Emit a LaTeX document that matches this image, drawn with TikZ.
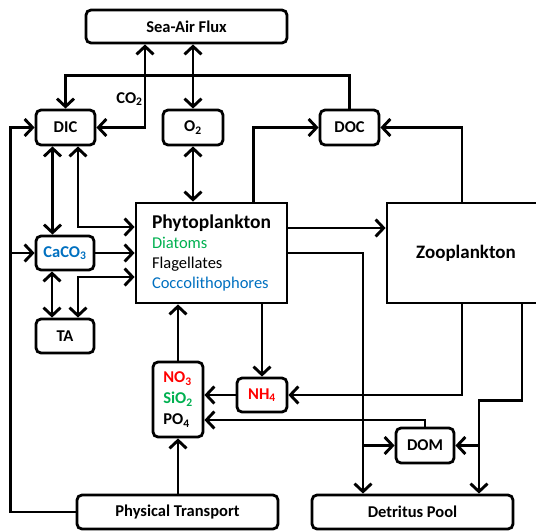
\documentclass[tikz,border=0pt]{standalone}
\usepackage{fontspec}
\setmainfont{Carlito}
\usetikzlibrary{arrows.meta,calc}
\definecolor{diagreen}{RGB}{0,176,80}
\definecolor{coccoblue}{RGB}{0,112,192}
\definecolor{nitred}{RGB}{255,0,0}
\tikzset{
	pool/.style={draw, rounded corners=5pt, line width=2.8pt, inner sep=0pt, font=\fontsize{16.5}{21}\selectfont\bfseries},
	stock/.style={draw, line width=2.8pt, inner sep=0pt},
	flux/.style={line width=2.9pt, -{Straight Barb[length=8pt,width=17pt]}},
	twoway/.style={line width=2.9pt, {Straight Barb[length=8pt,width=17pt]}-{Straight Barb[length=8pt,width=17pt]}}
}
\begin{document}
	\begin{tikzpicture}[x=1pt,y=-1pt]
		\useasboundingbox (0,0) rectangle (536,531);
		% boxes
		\node[pool, minimum width=201pt, minimum height=33pt] (sea) at (186.5,26.5) {Sea-Air Flux};
		\node[pool, minimum width=59pt, minimum height=35pt] (dic) at (65.5,127.5) {DIC};
		\node[pool, minimum width=60pt, minimum height=35pt] (otwo) at (193,127.5) {O\textsubscript{2}};
		\node[pool, minimum width=59pt, minimum height=35pt] (doc) at (349.5,127.5) {DOC};
		\node[pool, minimum width=58pt, minimum height=34pt, text=coccoblue] (caco) at (65,253) {CaCO\textsubscript{3}};
		\node[pool, minimum width=58pt, minimum height=34pt] (ta) at (65,336) {TA};
		\node[stock, minimum width=151pt, minimum height=100pt, align=left, font=\fontsize{16.5}{20}\selectfont] (phyto) at (211.5,253)
			{{\fontsize{19.5}{22}\selectfont\bfseries Phytoplankton}\\ {\color{diagreen}Diatoms}\\ Flagellates\\ {\color{coccoblue}Coccolithophores}};
		\node[stock, minimum width=158pt, minimum height=100pt, font=\fontsize{19}{22}\selectfont\bfseries] (zoo) at (466,253) {Zooplankton};
		\node[pool, minimum width=50pt, minimum height=75pt, align=left] (nut) at (178,399.5)
			{{\color{nitred}NO\textsubscript{3}}\\ {\color{diagreen}SiO\textsubscript{2}}\\ PO\textsubscript{4}};
		\node[pool, minimum width=50pt, minimum height=34pt, text=nitred] (nh) at (262,395) {NH\textsubscript{4}};
		\node[pool, minimum width=58pt, minimum height=35pt] (dom) at (425,445.5) {DOM};
		\node[pool, minimum width=201pt, minimum height=34pt] (phys) at (177.5,512) {Physical Transport};
		\node[pool, minimum width=201pt, minimum height=34pt] (det) at (412.5,512) {Detritus Pool};
		% gas exchange
		\draw[twoway] (dic.east) -| node[pos=0.67, left, inner sep=1pt, font=\fontsize{16.5}{20}\selectfont\bfseries] {CO\textsubscript{2}} ([xshift=-41.5pt]sea.south);
		\draw[twoway] (otwo.north) -- (otwo.north |- sea.south);
		\draw[flux] (doc.north) -- ++(0,-33) -| (dic.north);
		% carbon side
		\draw[twoway] (otwo.south) -- (otwo.south |- phyto.north);
		\draw[twoway] ([xshift=-13pt]dic.south) -- ([xshift=-13pt]dic.south |- caco.north);
		\draw[twoway] ([xshift=12.5pt]dic.south) |- ([yshift=26pt]phyto.west);
		\draw[flux] (phys.west) -| ([xshift=-24pt]dic.west) -- (dic.west);
		\draw[flux] ([xshift=-24pt]dic.west |- caco.west) -- (caco.west);
		\draw[flux] (caco.east) -- (caco.east -| phyto.west);
		\draw[twoway] ([xshift=-13pt]caco.south) -- ([xshift=-13pt]caco.south |- ta.north);
		\draw[twoway] ([yshift=-24pt]phyto.west) -| ([xshift=13pt]ta.north);
		% plankton
		\draw[flux] ([xshift=42pt]phyto.north) |- (doc.west);
		\draw[flux] ([xshift=-4pt]zoo.north) |- (doc.east);
		\draw[flux] ([yshift=25pt]phyto.east) -- ([yshift=25pt]phyto.east -| zoo.west);
		\draw[flux] (phyto.east) -| ([xshift=-49.5pt]det.north);
		\draw[flux] ([xshift=-49.5pt]det.north |- dom.west) -- (dom.west);
		\draw[flux] (phyto.south -| nh.north) -- (nh.north);
		% nutrients
		\draw[flux] (nut.north) -- (nut.north |- phyto.south);
		\draw[flux] (nh.west) -- (nh.west -| nut.east);
		\draw[flux] ([xshift=-4pt]zoo.south) |- (nh.east);
		\draw[flux] (dom.north) |- ([yshift=-20.5pt]nut.east);
		\draw[flux] ([xshift=56pt]zoo.south) -- ++(0,96) -| ([xshift=66.5pt]det.north);
		\draw[flux] ([xshift=66.5pt]det.north |- dom.east) -- (dom.east);
		\draw[flux] (phys.north -| nut.south) -- (nut.south);
	\end{tikzpicture}
\end{document}
